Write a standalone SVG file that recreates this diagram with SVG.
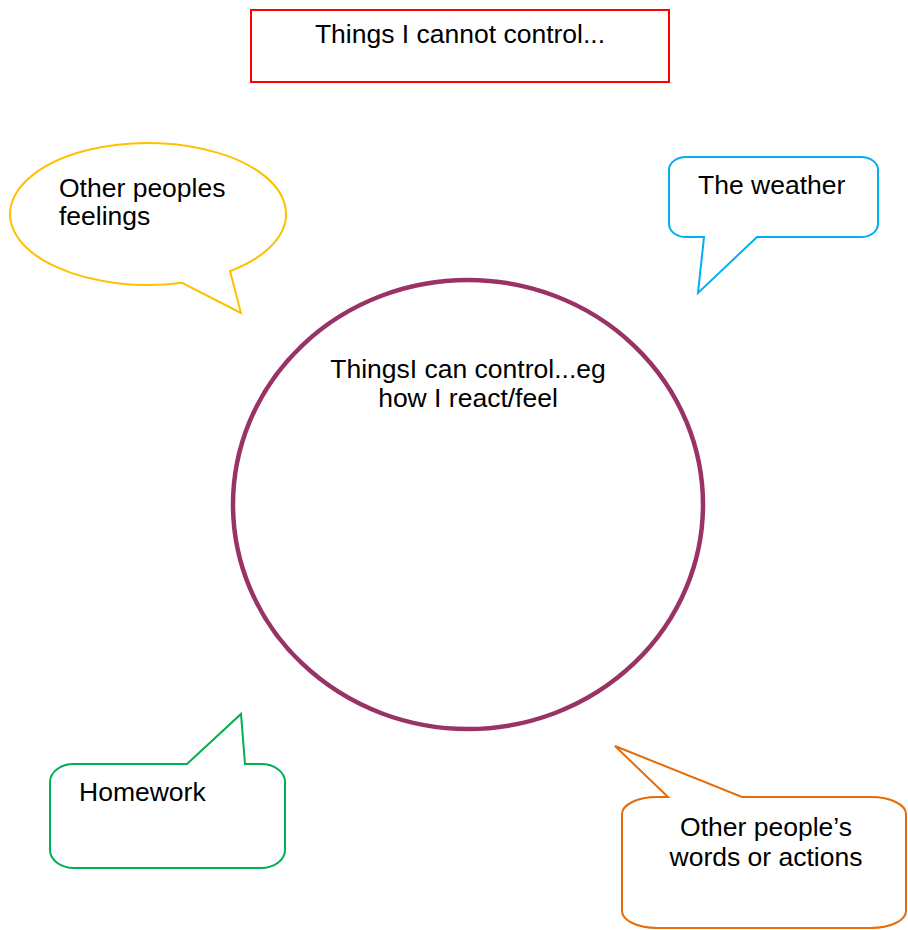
<svg xmlns="http://www.w3.org/2000/svg" width="908" height="930" viewBox="0 0 908 930">
<style>
text{font-family:"Liberation Sans",Arial,sans-serif;font-size:26.5px;fill:#000}
.c{fill:#fff;stroke-width:2;stroke-linejoin:miter}
.m{text-anchor:middle}
</style>
<rect width="908" height="930" fill="#fff"/>
<g id="connectors"></g>
<g id="cannot">
<rect x="251" y="10" width="418" height="72" fill="#fff" stroke="#FF0000" stroke-width="2"/>
<text class="m" x="460" y="43">Things I cannot control...</text>
</g>
<g id="feelings">
<path class="c" stroke="#FFC000" stroke-width="2.4" d="M230,271.1 A138,71 0 1 0 182,282.8 L241,313 Z"/>
<text x="59" y="197">Other peoples</text>
<text x="59" y="225">feelings</text>
</g>
<g id="weather">
<path class="c" stroke="#00B0F0" d="M686,157 H861 A17,13 0 0 1 878,170 V224 A17,13 0 0 1 861,237 H757 L698,293 L704,237 H686 A17,13 0 0 1 669,224 V170 A17,13 0 0 1 686,157 Z"/>
<text x="698" y="194">The weather</text>
</g>
<g id="control">
<ellipse cx="468" cy="504.5" rx="235" ry="224.5" fill="none" stroke="#993366" stroke-width="4.5"/>
<text class="m" x="468" y="378">ThingsI can control...eg</text>
<text class="m" x="468" y="407">how I react/feel</text>
</g>
<g id="homework">
<path class="c" stroke="#00B050" d="M74,764 H187 L241,714 L245,764 H261 A24,18 0 0 1 285,782 V850 A24,18 0 0 1 261,868 H74 A24,18 0 0 1 50,850 V782 A24,18 0 0 1 74,764 Z"/>
<text x="79" y="801">Homework</text>
</g>
<g id="words">
<path class="c" stroke="#E46C0A" d="M657,797 H668 L615,746 L742,797 H871 A35,17 0 0 1 906,814 V911 A35,17 0 0 1 871,928 H657 A35,17 0 0 1 622,911 V814 A35,17 0 0 1 657,797 Z"/>
<text class="m" x="766" y="836">Other people’s</text>
<text class="m" x="766" y="866">words or actions</text>
</g>
</svg>
